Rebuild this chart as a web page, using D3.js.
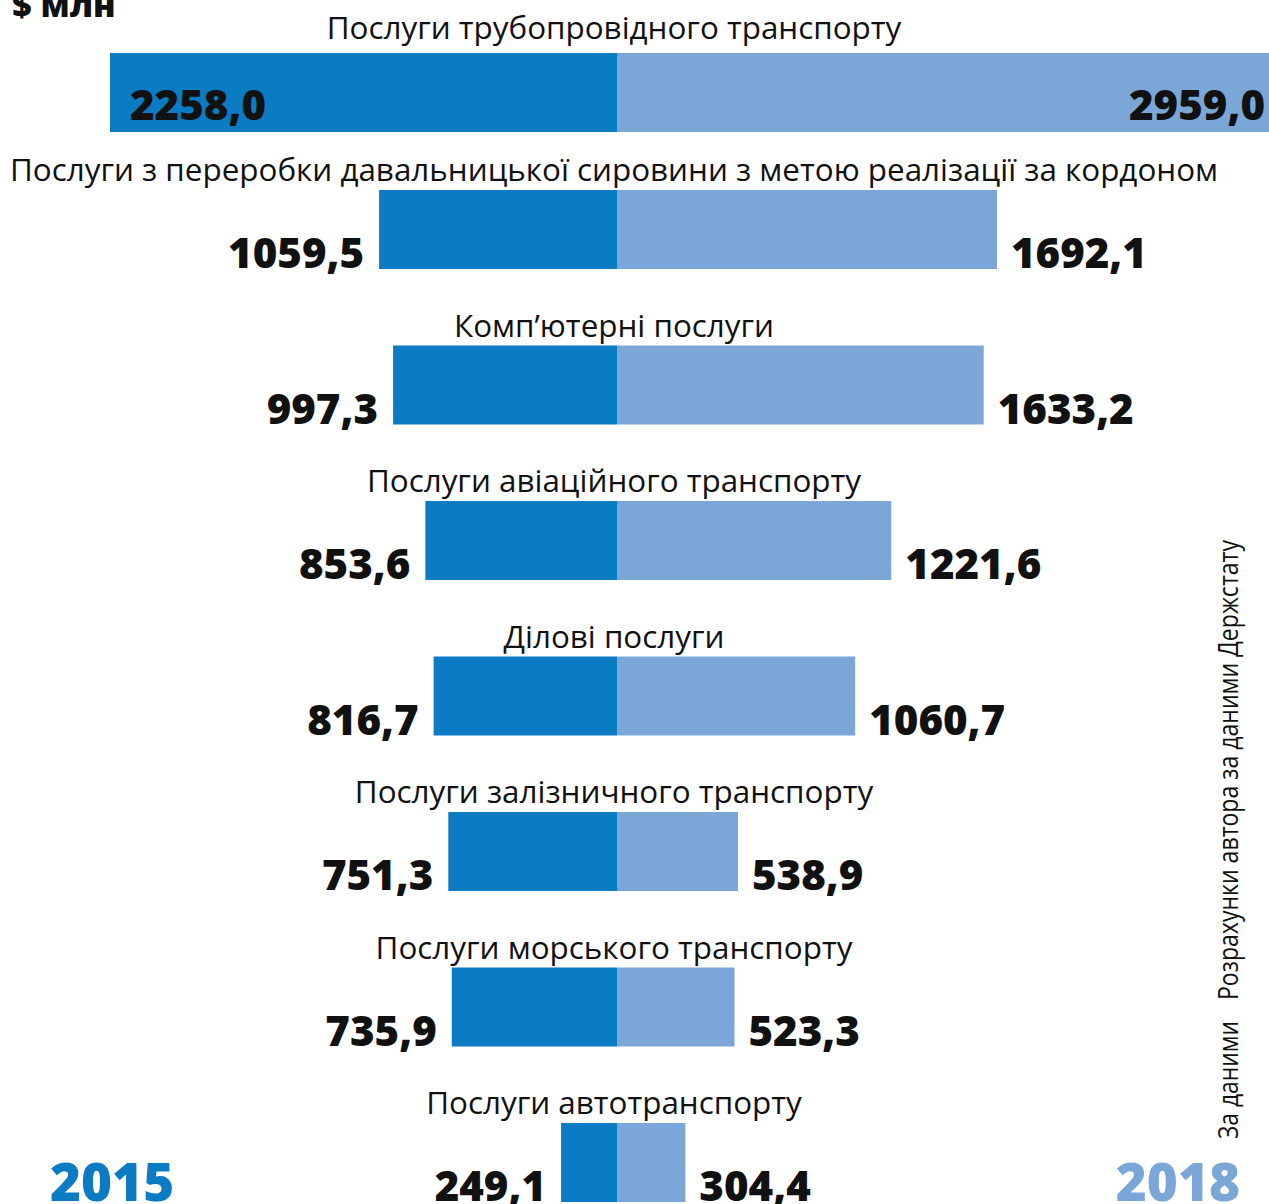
<!DOCTYPE html>
<html>
<head>
<meta charset="utf-8">
<script src="https://cdn.jsdelivr.net/npm/d3@7"></script>
<style>
  html, body { margin: 0; padding: 0; background: #fff; }
  svg { display: block; font-family: "Open Sans", sans-serif; }
</style>
</head>
<body>
<div id="chart"></div>
<script>
// Data: export of services, $ mln
const categories = [
  'Послуги трубопровідного транспорту',
  'Послуги з переробки давальницької сировини з метою реалізації за кордоном',
  'Комп\u2019ютерні послуги',
  'Послуги авіаційного транспорту',
  'Ділові послуги',
  'Послуги залізничного транспорту',
  'Послуги морського транспорту',
  'Послуги автотранспорту'
];
const values2015 = [2258.0, 1059.5, 997.3, 853.6, 816.7, 751.3, 735.9, 249.1];
const values2018 = [2959.0, 1692.1, 1633.2, 1221.6, 1060.7, 538.9, 523.3, 304.4];
const years = ['2015', '2018'];
const unitLabel = '$ млн';
const sourceLabels = ['За даними', 'Розрахунки автора за даними Держстату'];

const width = 1269, height = 1204;
const centerX = 617;
const colors = { left: '#0b7bc3', right: '#7aa7d8' };
const barH = 79;

const rows = categories.map((c, i) => ({ name: c, v15: values2015[i], v18: values2018[i], i }));

const svg = d3.select('#chart')
  .append('svg')
  .attr('width', width)
  .attr('height', height);

// Scales
const x = d3.scaleLinear()
  .domain([0, 2258])
  .range([0, 507]);

const y = d3.scaleBand()
  .domain(categories)
  .range([34.5, 34.5 + categories.length * 155.5])
  .padding(0);

// first row sits a bit lower and keeps its values inside the bar
const barTop = d => y(d.name) + (d.i === 0 ? 18.5 : 0);

const g = svg.append('g');

// Left bars (2015)
g.selectAll('.bar-left')
  .data(rows)
  .enter()
  .append('rect')
  .attr('class', 'bar-left')
  .attr('x', d => centerX - x(d.v15))
  .attr('y', barTop)
  .attr('width', d => x(d.v15))
  .attr('height', barH)
  .attr('fill', colors.left);

// Right bars (2018)
g.selectAll('.bar-right')
  .data(rows)
  .enter()
  .append('rect')
  .attr('class', 'bar-right')
  .attr('x', centerX)
  .attr('y', barTop)
  .attr('width', d => x(d.v18))
  .attr('height', barH)
  .attr('fill', colors.right);

// Category labels
g.selectAll('.cat-label')
  .data(rows)
  .enter()
  .append('text')
  .attr('class', 'cat-label')
  .attr('x', centerX - 3)
  .attr('y', d => barTop(d) - (d.i === 0 ? 14 : 9))
  .attr('text-anchor', 'middle')
  .attr('font-size', 31.4)
  .attr('fill', '#111')
  .text(d => d.name);

const fmt = v => v.toFixed(1).replace('.', ',');

// Value labels, left
g.selectAll('.val-left')
  .data(rows)
  .enter()
  .append('text')
  .attr('class', 'val-left')
  .attr('x', d => d.i === 0 ? centerX - x(d.v15) + 20 : centerX - x(d.v15) - 15)
  .attr('y', d => barTop(d) + barH - (d.i === 0 ? 12 : 1))
  .attr('text-anchor', d => d.i === 0 ? 'start' : 'end')
  .attr('font-size', 42)
  .attr('font-weight', 800)
  .attr('fill', '#111')
  .text(d => fmt(d.v15));

// Value labels, right
g.selectAll('.val-right')
  .data(rows)
  .enter()
  .append('text')
  .attr('class', 'val-right')
  .attr('x', d => d.i === 0 ? width - 4 : centerX + x(d.v18) + 14)
  .attr('y', d => barTop(d) + barH - (d.i === 0 ? 12 : 1))
  .attr('text-anchor', d => d.i === 0 ? 'end' : 'start')
  .attr('font-size', 42)
  .attr('font-weight', 800)
  .attr('fill', '#111')
  .text(d => fmt(d.v18));

// Unit label (top-left)
svg.append('text')
  .attr('x', 12)
  .attr('y', 17)
  .attr('font-size', 34)
  .attr('font-weight', 800)
  .attr('fill', '#111')
  .text(unitLabel);

// Year labels
svg.append('text')
  .attr('x', 50)
  .attr('y', 1201)
  .attr('font-size', 53)
  .attr('font-weight', 800)
  .attr('fill', colors.left)
  .text(years[0]);

svg.append('text')
  .attr('x', 1240)
  .attr('y', 1201)
  .attr('text-anchor', 'end')
  .attr('font-size', 53)
  .attr('font-weight', 800)
  .attr('fill', colors.right)
  .text(years[1]);

// Source note (vertical)
const src = svg.append('g')
  .attr('transform', 'translate(1238,1139) rotate(-90)');

src.append('text')
  .attr('x', 0)
  .attr('y', 0)
  .attr('font-size', 28)
  .attr('fill', '#111')
  .attr('textLength', 118)
  .attr('lengthAdjust', 'spacingAndGlyphs')
  .text(sourceLabels[0]);

src.append('text')
  .attr('x', 139)
  .attr('y', 0)
  .attr('font-size', 28)
  .attr('fill', '#111')
  .attr('textLength', 460)
  .attr('lengthAdjust', 'spacingAndGlyphs')
  .text(sourceLabels[1]);
</script>
</body>
</html>
